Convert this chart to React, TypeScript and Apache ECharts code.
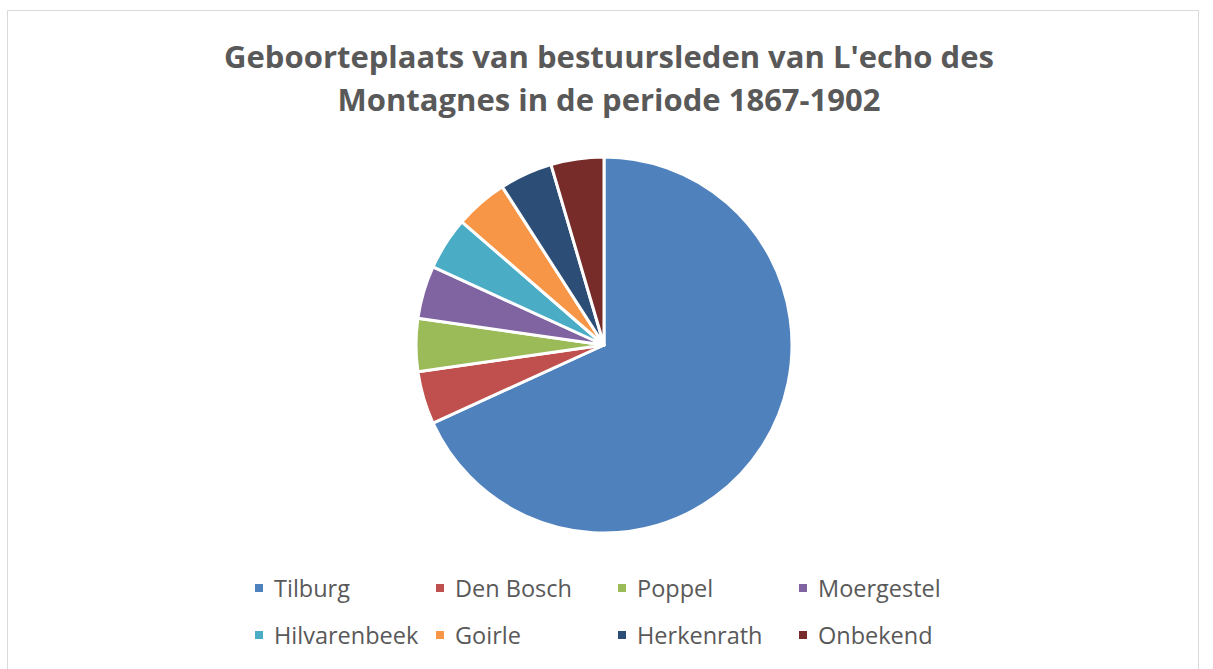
import React, { useEffect, useRef } from "react";
import * as echarts from "echarts";

const titleLines = ["Geboorteplaats van bestuursleden van L'echo des", "Montagnes in de periode 1867-1902"];
const categories = ["Tilburg", "Den Bosch", "Poppel", "Moergestel", "Hilvarenbeek", "Goirle", "Herkenrath", "Onbekend"];
const values = [15, 1, 1, 1, 1, 1, 1, 1];
const colors = ["#4F81BD", "#C0504D", "#9BBB59", "#8064A2", "#4BACC6", "#F79646", "#2C4D75", "#772C2A"];

export default function App() {
  const ref = useRef<HTMLDivElement>(null);
  useEffect(() => {
    document.body.style.margin = "0";
    const chart = echarts.init(ref.current!, null, { renderer: "svg" });
    const colX = [253, 434, 616, 797];
    const rowY = [576, 623];
    const legends = categories.map((name, i) => ({
      show: true,
      data: [name],
      left: colX[i % 4],
      top: rowY[Math.floor(i / 4)],
      icon: "rect",
      itemWidth: 10,
      itemHeight: 10,
      itemGap: 0,
      padding: 0,
      textStyle: { color: "#595959", fontSize: 23.5, fontFamily: "Open Sans", padding: [0, 0, 0, 5] },
      selectedMode: false,
    }));
    chart.setOption({
      animation: false,
      backgroundColor: "#ffffff",
      color: colors,
      title: {
        text: titleLines.join("\n"),
        left: 604,
        top: 29,
        textAlign: "center",
        textStyle: { color: "#595959", fontSize: 31, fontWeight: "bold", fontFamily: "Open Sans", lineHeight: 43 },
      },
      graphic: [
        {
          type: "rect",
          shape: { x: 7.5, y: 10.5, width: 1191, height: 680 },
          style: { fill: "none", stroke: "#d9d9d9", lineWidth: 1 },
          silent: true,
        },
      ],
      legend: legends,
      series: [
        {
          type: "pie",
          center: [604, 345],
          radius: 188,
          startAngle: 90,
          clockwise: true,
          label: { show: false },
          labelLine: { show: false },
          itemStyle: { borderColor: "#ffffff", borderWidth: 3 },
          emphasis: { disabled: true },
          data: categories.map((name, i) => ({ name, value: values[i] })),
        },
      ],
    });
    return () => chart.dispose();
  }, []);
  return <div ref={ref} style={{ width: 1213, height: 669 }} />;
}
